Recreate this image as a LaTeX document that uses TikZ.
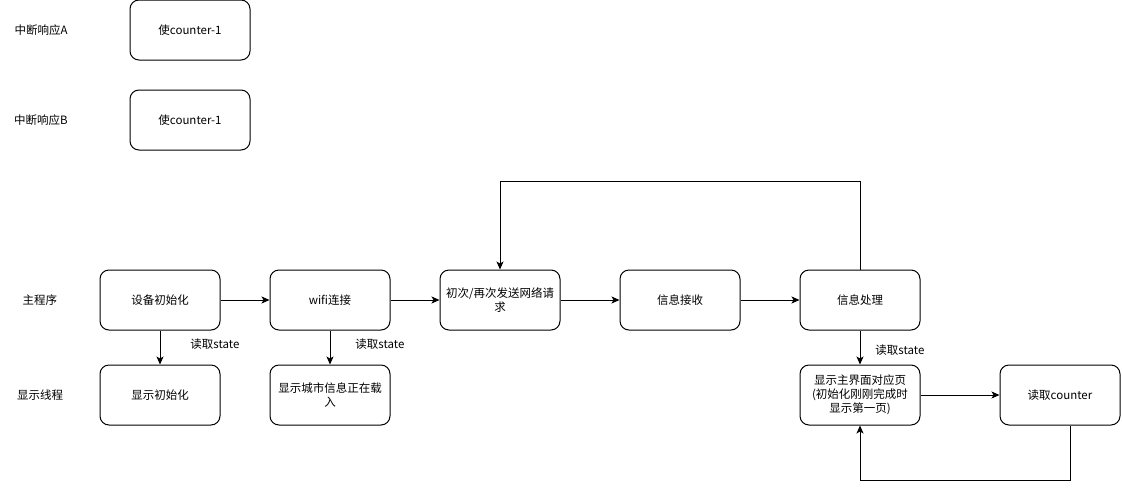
\documentclass[tikz,border=0pt]{standalone}
\usepackage{fontspec}
\setmainfont{Noto Sans CJK SC}
\usetikzlibrary{arrows.meta}
\begin{document}
\begin{tikzpicture}[x=1pt,y=-1pt,
  box/.style={draw=black,line width=1pt,rounded corners=9pt,minimum width=120pt,minimum height=60pt,align=center,font=\fontsize{11.5}{14}\selectfont,inner sep=1pt},
  lbl/.style={font=\fontsize{11.5}{14}\selectfont},
  conn/.style={draw=black,line width=1pt,-{Stealth[length=8pt,width=7pt,inset=2pt]}}]
\useasboundingbox (0,0) rectangle (1122,491);
\node[lbl] (la) at (41,30) {中断响应A};
\node[lbl] (lb) at (41,120) {中断响应B};
\node[lbl] (lm) at (40,300) {主程序};
\node[lbl] (ld) at (40,395) {显示线程};
\node[box] (ca) at (190,30) {使counter-1};
\node[box] (cb) at (190,120) {使counter-1};
\node[box] (init) at (160,300) {设备初始化};
\node[box] (wifi) at (330,300) {wifi连接};
\node[box] (req) at (500,300) {初次/再次发送网络请\\求};
\node[box] (recv) at (680,300) {信息接收};
\node[box] (proc) at (860,300) {信息处理};
\node[box] (dinit) at (160,395) {显示初始化};
\node[box] (dcity) at (330,395) {显示城市信息正在载\\入};
\node[box] (dmain) at (860,395) {显示主界面对应页\\(初始化刚刚完成时\\显示第一页)};
\node[box] (rc) at (1060,395) {读取counter};
\draw[conn] (init) -- (wifi);
\draw[conn] (wifi) -- (req);
\draw[conn] (req) -- (recv);
\draw[conn] (recv) -- (proc);
\draw[conn] (init) -- (dinit);
\draw[conn] (wifi) -- (dcity);
\draw[conn] (proc) -- (dmain);
\draw[conn] (dmain) -- (rc);
\coordinate (t1) at (860,181);
\coordinate (t2) at (500,181);
\draw[conn] (proc.north) -- (t1) -- (t2) -- (req.north);
\coordinate (b1) at (1070,480);
\coordinate (b2) at (860,480);
\draw[conn] (rc.south -| b1) -- (b1) -- (b2) -- (dmain.south);
\node[lbl] (s1) at (215,344) {读取state};
\node[lbl] (s2) at (380,344) {读取state};
\node[lbl] (s3) at (900,350) {读取state};
\end{tikzpicture}
\end{document}
